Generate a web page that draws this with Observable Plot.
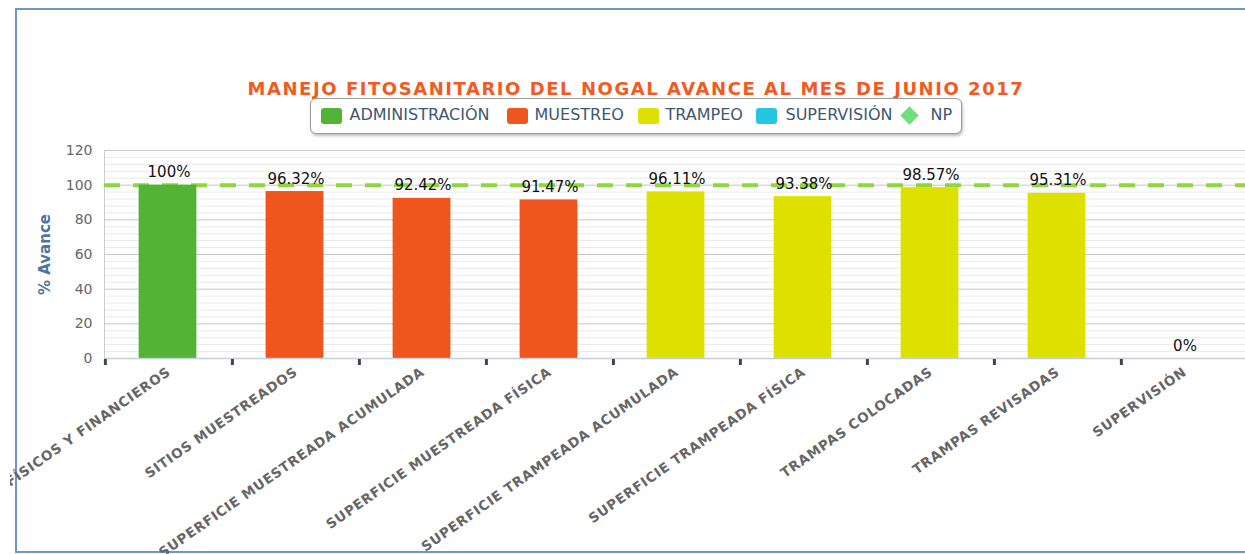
<!DOCTYPE html>
<html><head><meta charset="utf-8">
<script src="https://cdn.jsdelivr.net/npm/d3@7"></script>
<script src="https://cdn.jsdelivr.net/npm/@observablehq/plot@0.6"></script>
<style>
html,body{margin:0;padding:0;background:#fff;overflow:hidden;width:1245px;height:554px;}
#wrap{position:relative;width:1245px;height:554px;overflow:hidden;font-family:"DejaVu Sans",sans-serif;}
#frame{position:absolute;left:15px;top:8px;width:1300px;height:545px;border:2px solid #6E94CC;box-sizing:border-box;}
#title{position:absolute;left:0;width:1272px;top:78px;text-align:center;font-weight:bold;font-size:18px;letter-spacing:1.55px;color:#F15A22;white-space:nowrap;}
#legend{position:absolute;left:310px;top:98px;width:652px;height:36px;border:1.5px solid #9a9a9a;border-radius:6px;box-shadow:1px 2px 3px rgba(0,0,0,0.25);box-sizing:border-box;background:#fff;}
.sym{position:absolute;top:8.5px;width:21px;height:16px;border-radius:3px;}
.dia{position:absolute;top:9.5px;width:13px;height:13px;transform:rotate(45deg);}
.lab{position:absolute;top:6px;font-size:16px;color:#3E576F;line-height:20px;white-space:nowrap;}
#chart{position:absolute;left:10px;top:140px;width:1245px;height:414px;}
#chart svg{max-width:none !important;}
g[aria-label="x-axis tick label"] text{letter-spacing:0.7px;}
</style>
</head>
<body>
<div id="wrap">
  <div id="frame"></div>
  <div id="title"></div>
  <div id="legend"></div>
  <div id="chart"></div>
</div>
<script>
// ---- data ----
const chartTitle = "MANEJO FITOSANITARIO DEL NOGAL AVANCE AL MES DE JUNIO 2017";
const yLabel = "% Avance";
const categories = [
  "RECURSOS FÍSICOS Y FINANCIEROS",
  "SITIOS MUESTREADOS",
  "SUPERFICIE MUESTREADA ACUMULADA",
  "SUPERFICIE MUESTREADA FÍSICA",
  "SUPERFICIE TRAMPEADA ACUMULADA",
  "SUPERFICIE TRAMPEADA FÍSICA",
  "TRAMPAS COLOCADAS",
  "TRAMPAS REVISADAS",
  "SUPERVISIÓN"
];
const values = [100, 96.32, 92.42, 91.47, 96.11, 93.38, 98.57, 95.31, 0];
const groups = ["ADMINISTRACIÓN","MUESTREO","MUESTREO","MUESTREO","TRAMPEO","TRAMPEO","TRAMPEO","TRAMPEO","SUPERVISIÓN"];
const seriesNames = ["ADMINISTRACIÓN","MUESTREO","TRAMPEO","SUPERVISIÓN","NP"];
const seriesColors = ["#52B335","#EE561E","#DEE000","#26C6E2","#6EE07A"];
const npTarget = [100];
const yTicks = [0, 20, 40, 60, 80, 100, 120];
const yMinorTicks = [4,8,12,16,24,28,32,36,44,48,52,56,64,68,72,76,84,88,92,96,104,108,112,116];

// ---- layout ----
document.getElementById("title").textContent = chartTitle;
const legendSymLeft = [9.5, 196, 326.5, 444.5, 591.5];
const legendTextLeft = [38.5, 223.5, 354.5, 474.5, 619.5];
const legend = document.getElementById("legend");
seriesNames.forEach((name, i) => {
  const s = document.createElement("div");
  s.className = name === "NP" ? "dia" : "sym";
  s.style.left = legendSymLeft[i] + "px";
  s.style.background = seriesColors[i];
  legend.appendChild(s);
  const t = document.createElement("div");
  t.className = "lab";
  t.style.left = legendTextLeft[i] + "px";
  t.textContent = name;
  legend.appendChild(t);
});

const data = categories.map((c, i) => ({cat: c, value: values[i], group: groups[i], label: values[i] + "%"}));

const W = 1245, H = 414, mL = 94, mR = 6;
const bw = (W - mL - mR) / categories.length;

const chart = Plot.plot({
  width: W, height: H,
  marginLeft: mL, marginRight: mR, marginTop: 10, marginBottom: 196,
  style: {fontFamily: "DejaVu Sans, sans-serif", overflow: "hidden", background: "transparent", maxWidth: "none"},
  x: {type: "band", domain: categories, padding: 0},
  y: {domain: [0, 120]},
  color: {domain: seriesNames, range: seriesColors},
  marks: [
    Plot.ruleY(yMinorTicks, {stroke: "#eaeaea", strokeWidth: 1}),
    Plot.ruleY(yTicks, {stroke: "#c6c6c6", strokeWidth: 1}),
    Plot.frame({stroke: "#cccccc"}),
    Plot.ruleY(npTarget, {stroke: "#8CD83C", strokeWidth: 4, strokeDasharray: "16,13"}),
    Plot.barY(data, {x: "cat", y: "value", fill: "group", insetLeft: (bw - 58) / 2 - 1, insetRight: (bw - 58) / 2 + 1}),
    Plot.ruleY([0], {stroke: "#C0D0E0", strokeWidth: 1.5}),
    Plot.ruleX(categories, {x: d => d, y1: 0, y2: 0, dx: -bw / 2, insetTop: 1, insetBottom: -7, stroke: "#444", strokeWidth: 3}),
    Plot.axisY({ticks: yTicks, tickSize: 0, tickPadding: 12, fontSize: 14, fill: "#666", label: null}),
    Plot.axisX({tickSize: 0, tickRotate: -35, tickPadding: 12, fontSize: 13.5, fontWeight: "bold", fill: "#666", label: null}),
    Plot.text(data, {x: "cat", y: "value", text: "label", dy: -8, lineAnchor: "bottom", fontSize: 15, fill: "#111"}),
    Plot.text([yLabel], {frameAnchor: "left", textAnchor: "middle", dx: -59, rotate: -90, fontSize: 15, fontWeight: "bold", fill: "#4D759E"})
  ]
});
document.getElementById("chart").appendChild(chart);
</script>
</body></html>
